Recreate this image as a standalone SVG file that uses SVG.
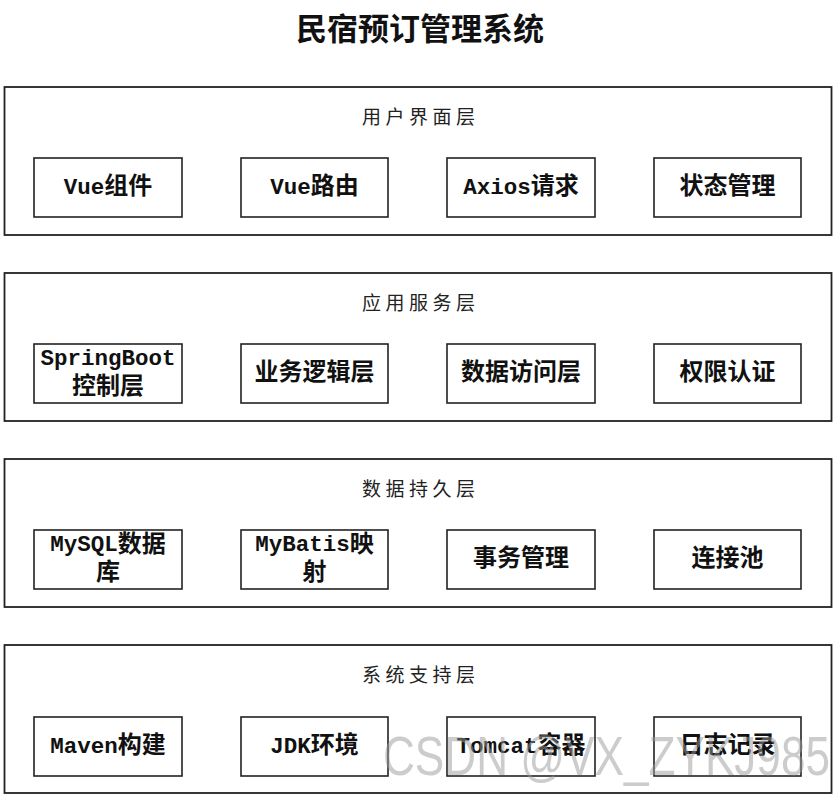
<svg xmlns="http://www.w3.org/2000/svg" width="840" height="802" viewBox="0 0 840 802">
<style>
.layer{fill:#fff;stroke:#222;stroke-width:1.8}
.node{fill:#fff;stroke:#222;stroke-width:1.6}
.title{font-family:"Noto Sans CJK SC","Liberation Serif",serif;font-weight:bold;font-size:31px;fill:#111;text-anchor:middle;dominant-baseline:central}
.lbl{font-family:"Noto Sans CJK SC","Liberation Sans",sans-serif;font-size:19px;fill:#222;letter-spacing:4.5px;dominant-baseline:central}
.nt{font-family:"Liberation Mono","Noto Sans CJK SC",monospace;font-weight:bold;font-size:24px;fill:#111;text-anchor:middle;dominant-baseline:central}
.la{font-size:22.5px}
.wm{font-family:"Liberation Sans","Noto Sans",sans-serif;font-size:56px;fill:#999;fill-opacity:0.5}
</style>
<rect width="840" height="802" fill="#fff"/>
<text class="title" x="420" y="26">民宿预订管理系统</text>

<g id="layer-ui">
<rect class="layer" x="4.5" y="87" width="827" height="148"/>
<text class="lbl" x="362" y="115">用户界面层</text>
<g id="n-vue-comp"><rect class="node" x="34" y="158" width="148" height="59"/><text class="nt" x="108" y="187.5"><tspan class="la">Vue</tspan>组件</text></g>
<g id="n-vue-router"><rect class="node" x="241" y="158" width="147" height="59"/><text class="nt" x="314.5" y="187.5"><tspan class="la">Vue</tspan>路由</text></g>
<g id="n-axios"><rect class="node" x="447" y="158" width="148" height="59"/><text class="nt" x="521" y="187.5"><tspan class="la">Axios</tspan>请求</text></g>
<g id="n-state"><rect class="node" x="654" y="158" width="147" height="59"/><text class="nt" x="727.5" y="187.5">状态管理</text></g>
</g>

<g id="layer-app">
<rect class="layer" x="4.5" y="273" width="827" height="148"/>
<text class="lbl" x="362" y="301">应用服务层</text>
<g id="n-springboot"><rect class="node" x="34" y="344" width="148" height="59"/><text class="nt la" x="108" y="359">SpringBoot</text><text class="nt" x="108" y="387">控制层</text></g>
<g id="n-biz"><rect class="node" x="241" y="344" width="147" height="59"/><text class="nt" x="314.5" y="373.5">业务逻辑层</text></g>
<g id="n-dao"><rect class="node" x="447" y="344" width="148" height="59"/><text class="nt" x="521" y="373.5">数据访问层</text></g>
<g id="n-auth"><rect class="node" x="654" y="344" width="147" height="59"/><text class="nt" x="727.5" y="373.5">权限认证</text></g>
</g>

<g id="layer-data">
<rect class="layer" x="4.5" y="459" width="827" height="148"/>
<text class="lbl" x="362" y="487">数据持久层</text>
<g id="n-mysql"><rect class="node" x="34" y="530" width="148" height="59"/><text class="nt" x="108" y="545"><tspan class="la">MySQL</tspan>数据</text><text class="nt" x="108" y="573">库</text></g>
<g id="n-mybatis"><rect class="node" x="241" y="530" width="147" height="59"/><text class="nt" x="314.5" y="545"><tspan class="la">MyBatis</tspan>映</text><text class="nt" x="314.5" y="573">射</text></g>
<g id="n-tx"><rect class="node" x="447" y="530" width="148" height="59"/><text class="nt" x="521" y="559.5">事务管理</text></g>
<g id="n-pool"><rect class="node" x="654" y="530" width="147" height="59"/><text class="nt" x="727.5" y="559.5">连接池</text></g>
</g>

<g id="layer-sys">
<rect class="layer" x="4.5" y="645" width="827" height="148"/>
<text class="lbl" x="362" y="673">系统支持层</text>
<g id="n-maven"><rect class="node" x="34" y="717" width="148" height="59"/><text class="nt" x="108" y="746.5"><tspan class="la">Maven</tspan>构建</text></g>
<g id="n-jdk"><rect class="node" x="241" y="717" width="147" height="59"/><text class="nt" x="314.5" y="746.5"><tspan class="la">JDK</tspan>环境</text></g>
<g id="n-tomcat"><rect class="node" x="447" y="717" width="148" height="59"/><text class="nt" x="521" y="746.5"><tspan class="la">Tomcat</tspan>容器</text></g>
<g id="n-log"><rect class="node" x="654" y="717" width="147" height="59"/><text class="nt" x="727.5" y="746.5">日志记录</text></g>
</g>

<g id="connectors"></g>

<text class="wm" x="383" y="775" textLength="447" lengthAdjust="spacingAndGlyphs">CSDN @VX_ZYKJ985</text>
</svg>
